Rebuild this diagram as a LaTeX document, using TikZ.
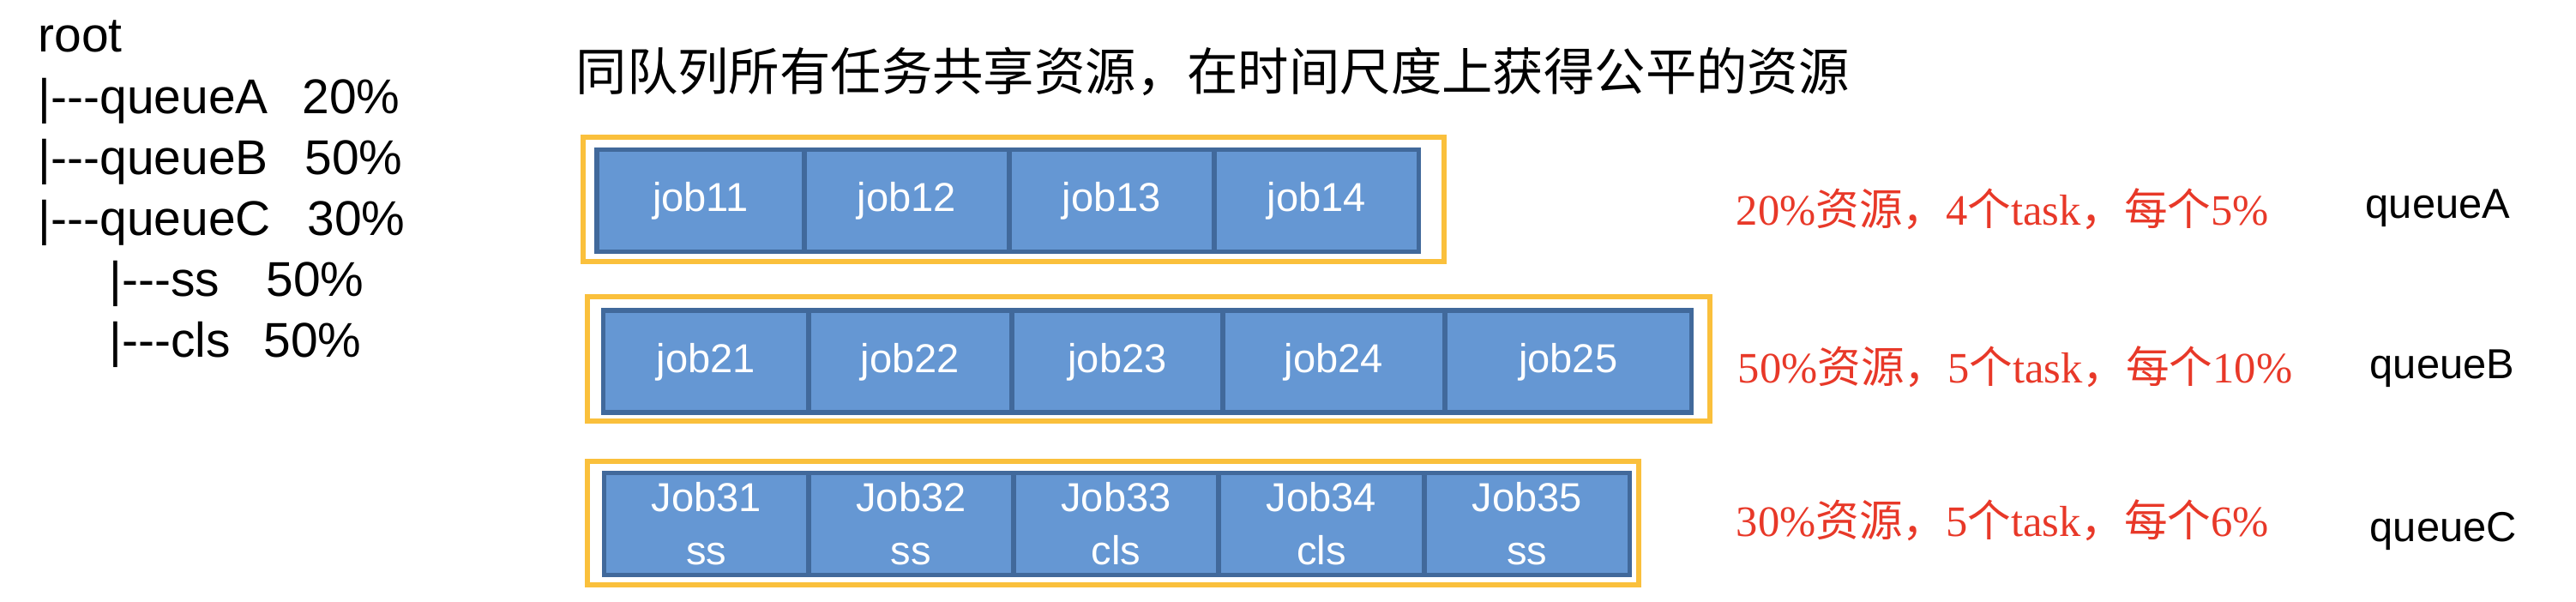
\documentclass[tikz,border=0pt]{standalone}
\usepackage{fontspec}
\setmainfont{Liberation Sans}
\newfontfamily\cjk{Noto Sans CJK SC}
\newfontfamily\serifrm{Liberation Serif}
\usepackage{tikz}
\usetikzlibrary{positioning}

\definecolor{jobfill}{RGB}{101,151,211}
\definecolor{jobline}{RGB}{65,105,155}
\definecolor{frameorange}{RGB}{250,192,60}
\definecolor{notered}{RGB}{232,56,40}

\newcommand{\zhtxt}[1]{{\cjk #1}}

\tikzset{
	treeline/.style={anchor=base west, inner sep=0pt, font=\fontsize{16.2}{19}\selectfont},
	jobbox/.style={draw=jobline, line width=1.6pt, fill=jobfill, text=white, minimum height=1.19cm, inner sep=0pt, outer sep=0pt, text height=0.72em, text depth=0pt, font=\fontsize{13.4}{16}\selectfont},
	jobboxtwo/.style={jobbox, text height=, text depth=, align=center, font=\fontsize{13.4}{17.6}\selectfont},
	qframe/.style={draw=frameorange, line width=1.7pt},
	sharenote/.style={anchor=base west, inner sep=0pt, text=notered, font=\serifrm\fontsize{14.4}{17}\selectfont},
	qlabel/.style={anchor=base west, inner sep=0pt, font=\fontsize{13.9}{16}\selectfont}
}

\begin{document}
\begin{tikzpicture}
						\fill[white] (0,0) rectangle (30.04,-7.02);
						\useasboundingbox (0,0) rectangle (30.04,-7.02);
						
						% Queue tree
						\node[treeline] (root) at (0.44,-0.61) {root};
						\node[treeline] (treeA) at (0.44,-1.33) {|-{}-{}-queueA\hspace{0.7em}20\%};
						\node[treeline] (treeB) at (0.44,-2.04) {|-{}-{}-queueB\hspace{0.75em}50\%};
						\node[treeline] (treeC) at (0.44,-2.75) {|-{}-{}-queueC\hspace{0.75em}30\%};
						\node[treeline] (treeSS) at (1.27,-3.46) {|-{}-{}-ss\hspace{0.95em}50\%};
						\node[treeline] (treeCLS) at (1.27,-4.17) {|-{}-{}-cls\hspace{0.68em}50\%};
						
						% Title
						\node[anchor=base west, inner sep=0pt, font=\cjk\fontsize{16.9}{20}\selectfont] (title) at (6.71,-1.06) {同队列所有任务共享资源，在时间尺度上获得公平的资源};
						
						% Frames
						\draw[qframe] (6.80,-1.60) rectangle (16.84,-3.05);
						\draw[qframe] (6.85,-3.46) rectangle (19.94,-4.91);
						\draw[qframe] (6.85,-5.38) rectangle (19.11,-6.82);
						
						% queueA jobs
						\node[jobbox, minimum width=2.42cm, anchor=west] (jobA1) at (6.96,-2.34) {job11};
						\node[jobbox, minimum width=2.39cm, right=0pt of jobA1] (jobA2) {job12};
						\node[jobbox, minimum width=2.39cm, right=0pt of jobA2] (jobA3) {job13};
						\node[jobbox, minimum width=2.385cm, right=0pt of jobA3] (jobA4) {job14};
						
						% queueB jobs
						\node[jobbox, minimum width=2.395cm, anchor=west] (jobB1) at (7.035,-4.215) {job21};
						\node[jobbox, minimum width=2.37cm, right=0pt of jobB1] (jobB2) {job22};
						\node[jobbox, minimum width=2.46cm, right=0pt of jobB2] (jobB3) {job23};
						\node[jobbox, minimum width=2.59cm, right=0pt of jobB3] (jobB4) {job24};
						\node[jobbox, minimum width=2.875cm, right=0pt of jobB4] (jobB5) {job25};
						
						% queueC jobs
						\node[jobboxtwo, minimum width=2.385cm, anchor=west] (jobC1) at (7.045,-6.11) {Job31\\ss};
						\node[jobboxtwo, minimum width=2.39cm, right=0pt of jobC1] (jobC2) {Job32\\ss};
						\node[jobboxtwo, minimum width=2.39cm, right=0pt of jobC2] (jobC3) {Job33\\cls};
						\node[jobboxtwo, minimum width=2.40cm, right=0pt of jobC3] (jobC4) {Job34\\cls};
						\node[jobboxtwo, minimum width=2.395cm, right=0pt of jobC4] (jobC5) {Job35\\ss};
						
						% Notes and queue names
						\node[sharenote] (noteA) at (20.24,-2.63) {20\%\zhtxt{资源，}4\zhtxt{个}task\zhtxt{，每个}5\%};
						\node[sharenote] (noteB) at (20.26,-4.47) {50\%\zhtxt{资源，}5\zhtxt{个}task\zhtxt{，每个}10\%};
						\node[sharenote] (noteC) at (20.24,-6.25) {30\%\zhtxt{资源，}5\zhtxt{个}task\zhtxt{，每个}6\%};
						
						\node[qlabel] (nameA) at (27.58,-2.55) {queueA};
						\node[qlabel] (nameB) at (27.63,-4.42) {queueB};
						\node[qlabel] (nameC) at (27.63,-6.32) {queueC};
						
					\end{tikzpicture}
\end{document}
